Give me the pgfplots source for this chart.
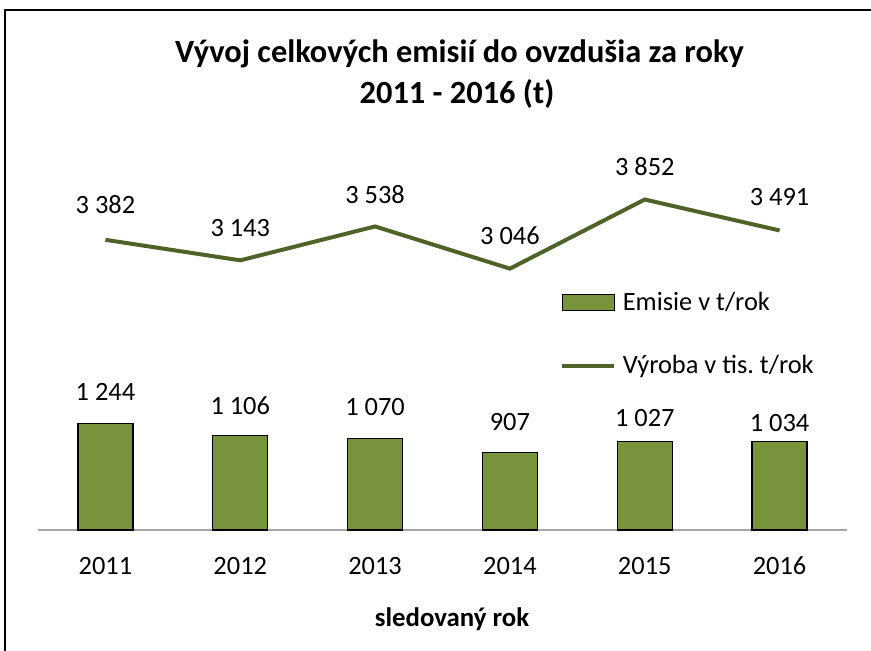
\documentclass[border=0pt]{standalone}
\usepackage{fontspec}
\setmainfont{Carlito}
\usepackage{pgfplots}
\pgfplotsset{compat=1.18}
\usepackage{pgfplotstable}
\definecolor{barg}{HTML}{77933C}
\definecolor{lineg}{HTML}{4F6228}
\definecolor{axg}{HTML}{A6A6A6}
\frenchspacing

\pgfplotstableread{
x y off
0 1244 11.5
1 1106 10.5
2 1070 11.3
3 907 10.85
4 1027 7.5
5 1034 4.85
}\emisie
\pgfplotstableread{
x y off
0 3382 13
1 3143 12.15
2 3538 11.65
3 3046 12
4 3852 12.15
5 3491 12.5
}\vyroba

\begin{document}
\begin{tikzpicture}
\useasboundingbox (0,0) rectangle (435.5pt,325.5pt);
\draw[line width=1pt] (2.5pt,-20pt) -- (2.5pt,320.5pt) -- (460pt,320.5pt);
\node[font=\fontsize{16.2}{19}\selectfont\bfseries, anchor=base, inner sep=0pt] at (229.75pt,294pt) {Vývoj celkových emisií do ovzdušia za roky};
\node[font=\fontsize{16.2}{19}\selectfont\bfseries, anchor=base, inner sep=0pt] at (228.5pt,273.5pt) {2011 - 2016 (t)};
\node[font=\fontsize{13.4}{16}\selectfont\bfseries, anchor=base, inner sep=0pt] at (226pt,12pt) {sledovaný rok};
\begin{axis}[
  at={(19pt,60.5pt)}, anchor=south west,
  scale only axis, width=404.5pt, height=193.05pt,
  xmin=-0.5, xmax=5.5, ymin=0, ymax=4500,
  clip=false,
  axis x line*=bottom, axis y line=none,
  x axis line style={draw=axg, line width=0.6pt},
  xtick={0,1,2,3,4,5},
  xticklabels={2011,2012,2013,2014,2015,2016},
  major tick length=0pt,
  xticklabel style={anchor=base, yshift=-22.5pt, inner sep=0pt, font=\fontsize{13.2}{16}\selectfont},
  /pgf/number format/1000 sep={\ },
  /pgf/number format/assume math mode=true,
  legend cell align=left,
  legend style={at={(0.6452,0.617)}, anchor=north west, draw=none, fill=none,
    inner sep=0pt, row sep=20.6pt, font=\fontsize{13.2}{16}\selectfont,
    nodes={inner sep=0pt, text height=9pt, text depth=2pt},
    /tikz/every odd column/.append style={column sep=3.2pt}},
]
\addplot[ybar, bar width=27.5pt, bar shift=0pt, fill=barg, draw=black, line width=0.6pt,
  nodes near coords,
  visualization depends on={\thisrow{off}\as\myoff},
  every node near coord/.append style={anchor=base, yshift=\myoff pt, inner sep=0pt, text=black, font=\fontsize{13.2}{16}\selectfont},
  legend image code/.code={\draw[fill=barg, draw=black, line width=0.6pt] (0pt,-3.8pt) rectangle (26pt,4.2pt);}
] table[x=x, y=y] {\emisie};
\addlegendentry{Emisie v t/rok}
\addplot[lineg, line width=2pt, mark=none,
  nodes near coords,
  visualization depends on={\thisrow{off}\as\myoff},
  every node near coord/.append style={anchor=base, yshift=\myoff pt, inner sep=0pt, text=black, font=\fontsize{13.2}{16}\selectfont},
  legend image code/.code={\draw[lineg, line width=2pt] (0pt,0.15pt) -- (26pt,0.15pt);}
] table[x=x, y=y] {\vyroba};
\addlegendentry{Výroba v tis. t/rok}
\end{axis}
\end{tikzpicture}
\end{document}
